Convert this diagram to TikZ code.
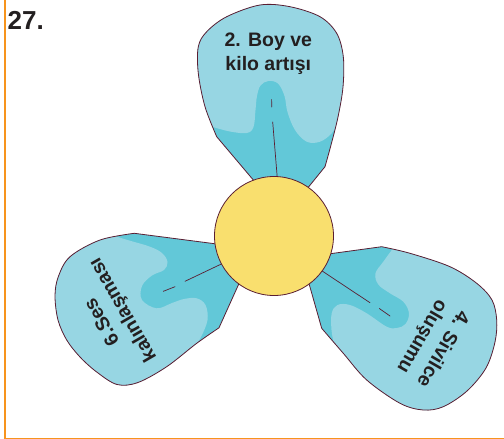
\documentclass[tikz,border=0pt]{standalone}
\usepackage{fontspec}
\setmainfont{Liberation Sans}
\usepackage{tikz}
\definecolor{petaldark}{HTML}{62C8D8}
\definecolor{petallight}{HTML}{97D6E3}
\definecolor{hubyellow}{HTML}{F9DF6E}
\definecolor{petalrim}{HTML}{5A1E32}
\definecolor{ink}{HTML}{231F20}
\definecolor{frameorange}{HTML}{F7941D}
\tikzset{
  every picture/.style={
    line join=round,
    line cap=round,
  },
  petaledge/.style={draw=petalrim, line width=0.8pt},
  veinline/.style={draw=petalrim, line width=0.7pt},
  hubdisk/.style={circle, fill=hubyellow, draw=petalrim, line width=0.8pt,
    minimum size=119pt, inner sep=0pt},
  petaltext/.style={align=center, text=ink, inner sep=0pt,
    font=\bfseries\fontsize{19.5}{24}\selectfont},
  frameline/.style={draw=frameorange, line cap=butt},
}
% petal outlines and their light parts (pixel units, y pointing down)
\newcommand{\toppetal}{(269,199) -- (253.3,180) -- (216.7,136.7)
  -- plot[smooth, tension=0.55] coordinates {(216.7,136.7) (205,106.7) (198.3,73.3)
  (198.3,46.7) (206.7,31.7) (226.7,16.7) (260,5) (290,6.7) (320,16.7) (336.7,33.3)
  (343.3,56.7) (343,87) (338,117) (331,145) (325,166.7)}
  -- (308.3,187.3) -- (300,198) -- cycle}
\newcommand{\toplight}{(185,127) -- plot[smooth, tension=0.6] coordinates {(213,127)
  (230,131.5) (246.7,133) (253.5,127) (255.5,110) (257,96) (260.5,85.5) (268.3,81)
  (278,83.5) (284.5,96) (287.5,112) (295,130) (306.7,141.7) (320,141.7) (331.7,133.3)
  (338,122)} -- (355,115) -- (355,-5) -- (185,-5) -- cycle}
\newcommand{\leftpetal}{(240,247) -- (134.3,233.3)
  -- plot[smooth, tension=0.55] coordinates {(134.3,233.3) (100,240) (70,256.7)
  (58.3,276.7) (55,296) (58,320) (66.7,340) (80,357) (96.7,372) (117,384.5)
  (138,382.5) (166.7,366.7) (196.7,343.3) (219,327.8)}
  -- (246,268) -- cycle}
\newcommand{\leftlight}{(105,215) -- plot[smooth, tension=0.6] coordinates {(111,235)
  (131,241) (150,246.7) (162,253) (167.5,262) (164,270) (152,275.5) (142,286)
  (142,300) (156.7,308.3) (172,303) (184,299) (196.7,298.3) (205.5,305) (207.5,320)
  (201,337) (194,348)} -- (200,400) -- (30,400) -- (30,215) -- cycle}
\newcommand{\rightpetal}{(310,256.5) -- (381.7,246.7)
  -- plot[smooth, tension=0.55] coordinates {(381.7,246.7) (410,253.3) (450,266.7)
  (476.7,283.3) (492,300) (496.7,320) (495,342) (486,368) (467,391) (443.3,406.7)
  (423.3,410) (400,403.3) (366.7,380) (343.3,353.3) (321.7,328.3)}
  -- (304,266) -- cycle}
\newcommand{\rightlight}{(398,232) -- plot[smooth, tension=0.6] coordinates {(394,247)
  (383.3,261.7) (375.5,273.3) (378.3,284.5) (390,293.3) (403.3,301.7) (409,313.3)
  (405.5,324) (397,328) (386.7,326.7) (366.7,313.3) (350,305) (337.5,305)
  (331.7,313.3) (331.5,330) (334,344)} -- (315,352) -- (315,440) -- (510,440)
  -- (510,232) -- cycle}

\begin{document}
\begin{tikzpicture}[x=1pt, y=-1pt]
\useasboundingbox (0,0) rectangle (504,439);
% frame
\draw[frameline, line width=2.2pt] (4.7,0) -- (4.7,439);
\draw[frameline, line width=1.4pt] (3.6,438.3) -- (504,438.3);
\node[anchor=base west, text=ink, inner sep=0pt,
  font=\bfseries\fontsize{26}{26}\selectfont] (qnum) at (7.5,30) {27.};

% petals
\fill[petaldark] \toppetal;
\begin{scope}
  \clip \toppetal;
  \fill[petallight] \toplight;
\end{scope}
\draw[petaledge] \toppetal;

\fill[petaldark] \leftpetal;
\begin{scope}
  \clip \leftpetal;
  \fill[petallight] \leftlight;
\end{scope}
\draw[petaledge] \leftpetal;

\fill[petaldark] \rightpetal;
\begin{scope}
  \clip \rightpetal;
  \fill[petallight] \rightlight;
\end{scope}
\draw[petaledge] \rightpetal;

% hub and veins
\node[hubdisk] (hub) at (274,236) {};
\coordinate (topveinA) at (272.7,122);
\coordinate (topveinB) at (271.8,107);
\coordinate (topveinC) at (271.6,99.5);
\coordinate (leftveinA) at (185,281.3);
\coordinate (leftveinB) at (175,286.7);
\coordinate (leftveinC) at (163.3,291.3);
\coordinate (rightveinA) at (370,302.7);
\coordinate (rightveinB) at (379.3,308.5);
\coordinate (rightveinC) at (390,316);
\draw[veinline] (hub.87) -- (topveinA);
\draw[veinline] (topveinB) -- (topveinC);
\draw[veinline] (hub.208) -- (leftveinA);
\draw[veinline] (leftveinB) -- (leftveinC);
\draw[veinline] (hub.324) -- (rightveinA);
\draw[veinline] (rightveinB) -- (rightveinC);

% labels
\node[petaltext] (toptext) at (268.3,53.5) {2. Boy ve\\kilo artışı};
\node[petaltext, rotate=120] (lefttext) at (113.3,315.4) {6.Ses\\kalınlaşması};
\node[petaltext, rotate=240] (righttext) at (432,342.5) {4. Sivilce\\oluşumu};
\end{tikzpicture}
\end{document}
